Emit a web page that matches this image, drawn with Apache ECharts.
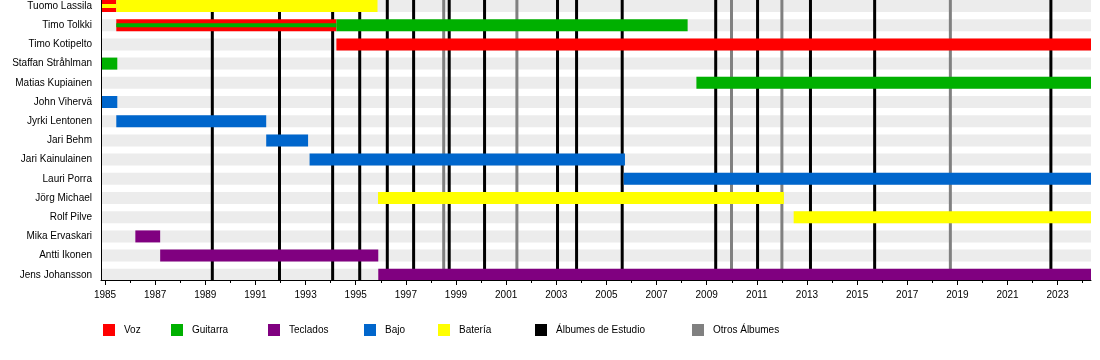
<!DOCTYPE html>
<html>
<head>
<meta charset="utf-8">
<script src="https://cdn.jsdelivr.net/npm/echarts/dist/echarts.min.js"></script>
<style>
html,body{margin:0;padding:0;background:#fff;}
#main{width:1100px;height:360px;}
</style>
</head>
<body>
<div id="main"></div>
<script>
// ---- data ----
const categories = ['Tuomo Lassila','Timo Tolkki','Timo Kotipelto','Staffan Stråhlman','Matias Kupiainen','John Vihervä','Jyrki Lentonen','Jari Behm','Jari Kainulainen','Lauri Porra','Jörg Michael','Rolf Pilve','Mika Ervaskari','Antti Ikonen','Jens Johansson'];
const START = 1984.84;
const END = 2024.33;
// [member index, start year, end year]
const vozBars = [[0, START, 1985.45], [1, 1985.45, 1994.23], [2, 1994.23, END]];
const guitarraBars = [[1, 1994.23, 2008.24], [3, START, 1985.49], [4, 2008.59, END]];
const guitarraStripes = [[1, 1985.45, 1994.23]];
const tecladosBars = [[12, 1986.21, 1987.2], [13, 1987.2, 1995.9], [14, 1995.9, END]];
const bajoBars = [[5, START, 1985.49], [6, 1985.45, 1991.43], [7, 1991.43, 1993.1], [8, 1993.16, 2005.74], [9, 2005.69, END]];
const bateriaBars = [[0, 1985.45, 1995.87], [10, 1995.89, 2012.08], [11, 2012.47, END]];
const bateriaStripes = [[0, START, 1985.45]];
const studioAlbums = [1989.28, 1991.96, 1994.08, 1995.16, 1996.26, 1997.31, 1998.73, 2000.14, 2003.05, 2003.81, 2005.63, 2009.36, 2011.03, 2013.14, 2015.7, 2022.73];
const otherAlbums = [1998.51, 2001.43, 2009.99, 2012.0, 2018.72];
const labelYears = [1985,1987,1989,1991,1993,1995,1997,1999,2001,2003,2005,2007,2009,2011,2013,2015,2017,2019,2021,2023];
const minorYears = [1986,1988,1990,1992,1994,1996,1998,2000,2002,2004,2006,2008,2010,2012,2014,2016,2018,2020,2022,2024];
const legendNames = ['Voz','Guitarra','Teclados','Bajo','Batería','Álbumes de Estudio','Otros Álbumes'];
const colors = {'Voz':'#ff0000','Guitarra':'#00b000','Teclados':'#800080','Bajo':'#0066cc','Batería':'#ffff00','Álbumes de Estudio':'#000000','Otros Álbumes':'#808080'};

// ---- rendering ----
const BAR_H = 12, STRIPE_H = 4;
function barRender(h){
  return function(params, api){
    const m = api.value(0), s = api.value(1), e = api.value(2);
    const p1 = api.coord([s, m]), p2 = api.coord([e, m]);
    return {type:'rect', shape:{x:p1[0], y:p1[1]-h/2, width:p2[0]-p1[0], height:h}, style:{fill: api.visual('color')}};
  };
}
function barSeries(name, data, h, z){
  return {type:'custom', name:name, renderItem: barRender(h), data:data, encode:{x:[1,2], y:0}, itemStyle:{color:colors[name]}, z:z, silent:true};
}
function lineSeries(name, data){
  return {type:'custom', name:name, z:2, silent:true, itemStyle:{color:colors[name]},
    data: data.map(v=>[v]), encode:{x:0},
    renderItem:function(params, api){
      const cs = params.coordSys;
      const x = api.coord([api.value(0), 0])[0];
      return {type:'rect', shape:{x:x-1.5, y:cs.y, width:3, height:cs.height}, style:{fill: api.visual('color')}};
    }};
}

const chart = echarts.init(document.getElementById('main'));
const legendX = [98, 166, 263, 359, 433, 530, 687];
const option = {
  backgroundColor:'#fff',
  animation:false,
  textStyle:{fontFamily:'Liberation Sans, Arial, sans-serif'},
  grid:{left:101, right:9, top:0, bottom:80},
  xAxis:[{
    type:'value', min:START, max:END, position:'bottom', gridIndex:0, offset:0, z:20,
    axisLine:{show:true, onZero:false, lineStyle:{color:'#000', width:1}},
    axisTick:{show:true, customValues:labelYears, length:5, lineStyle:{color:'#000'}},
    axisLabel:{show:true, customValues:labelYears, margin:10, fontSize:10, color:'#000', formatter:v=>String(Math.round(v))},
    splitLine:{show:false}
  },{
    type:'value', min:START, max:END, position:'bottom', gridIndex:0, offset:0, z:20,
    axisLine:{show:false, onZero:false},
    axisTick:{show:true, customValues:minorYears, length:3, lineStyle:{color:'#000'}},
    axisLabel:{show:false},
    splitLine:{show:false}
  }],
  yAxis:{
    type:'value', inverse:true, min:-0.3125, max:14.27, z:20,
    axisLine:{show:true, onZero:false, lineStyle:{color:'#000', width:1}},
    axisTick:{show:false},
    axisLabel:{show:true, customValues:categories.map((c,i)=>i), margin:9, fontSize:10, color:'#000', formatter:v=>categories[Math.round(v)]},
    splitLine:{show:false}
  },
  legend: legendNames.map((n,i)=>({
    data:[n], left:legendX[i], top:319, icon:'rect', itemWidth:12, itemHeight:12,
    selectedMode:false, textStyle:{fontSize:10, color:'#000', padding:[0,0,0,4]}
  })),
  series:[
    {type:'custom', name:'rows', z:1, silent:true, data:categories.map((c,i)=>[i]), encode:{y:0},
      renderItem:function(params, api){
        const cs = params.coordSys;
        const y = api.coord([START, api.value(0)])[1];
        return {type:'rect', shape:{x:cs.x, y:y-BAR_H/2, width:cs.width, height:BAR_H}, style:{fill:'#ececec'}};
      }},
    lineSeries('Álbumes de Estudio', studioAlbums),
    lineSeries('Otros Álbumes', otherAlbums),
    barSeries('Voz', vozBars, BAR_H, 3),
    barSeries('Guitarra', guitarraBars, BAR_H, 3),
    barSeries('Teclados', tecladosBars, BAR_H, 3),
    barSeries('Bajo', bajoBars, BAR_H, 3),
    barSeries('Batería', bateriaBars, BAR_H, 3),
    barSeries('Guitarra', guitarraStripes, STRIPE_H, 4),
    barSeries('Batería', bateriaStripes, STRIPE_H, 4)
  ]
};
chart.setOption(option);
</script>
</body>
</html>
